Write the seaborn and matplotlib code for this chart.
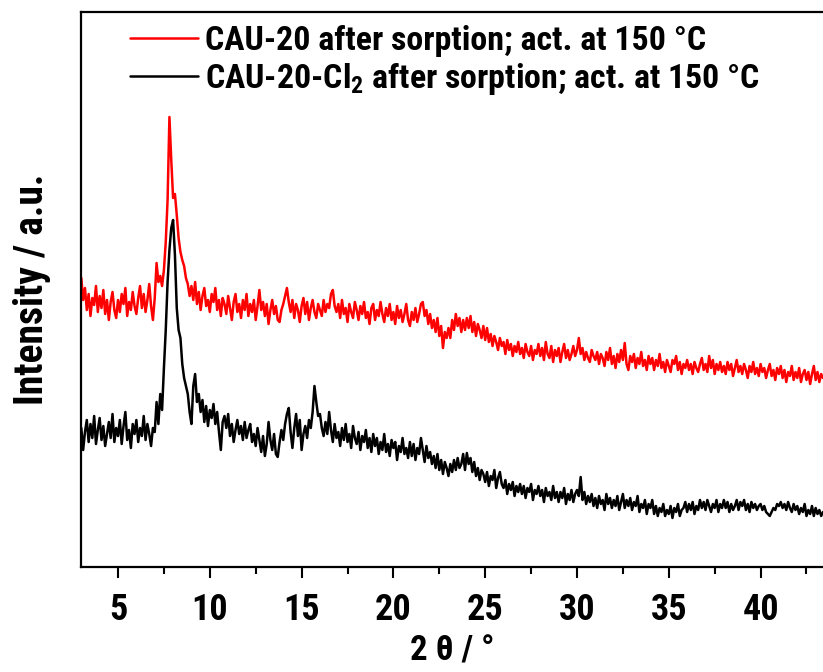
import numpy as np
import pandas as pd
import matplotlib
matplotlib.use("Agg")
import matplotlib.pyplot as plt
import matplotlib.font_manager as fm
import seaborn as sns

# PXRD scans, 2θ from 3.0° in 0.1° steps (arbitrary intensity units)
start_2theta = 3.0
step_2theta = 0.1

cau20 = [
    322, 300, 312, 290, 306, 284, 302, 295, 314, 288,
    304, 292, 310, 286, 300, 280, 298, 308, 290, 282,
    300, 288, 306, 296, 312, 284, 298, 290, 308, 294,
    286, 302, 314, 292, 306, 288, 300, 316, 294, 280,
    302, 337, 318, 324, 314, 330, 358, 400, 483, 440,
    402, 406, 385, 362, 348, 340, 334, 322, 316, 304,
    314, 300, 318, 296, 308, 290, 304, 312, 294, 300,
    288, 306, 298, 312, 290, 300, 284, 302, 296, 286,
    304, 292, 280, 298, 306, 288, 296, 282, 300, 290,
    306, 284, 296, 288, 300, 280, 294, 310, 290, 298,
    284, 296, 276, 290, 300, 286, 294, 280, 278, 290,
    296, 304, 312, 298, 288, 300, 282, 296, 290, 278,
    294, 302, 286, 298, 280, 292, 300, 288, 282, 296,
    290, 284, 300, 288, 296, 292, 306, 310, 294, 288,
    296, 282, 300, 286, 292, 278, 296, 288, 282, 298,
    290, 280, 294, 286, 298, 282, 288, 276, 292, 296,
    280, 290, 284, 298, 286, 278, 292, 284, 296, 280,
    288, 276, 294, 282, 290, 278, 286, 296, 280, 274,
    288, 280, 292, 278, 286, 296, 298, 284, 290, 276,
    286, 272, 280, 268, 282, 264, 274, 252, 268, 262,
    272, 262, 280, 270, 286, 274, 282, 268, 280, 270,
    282, 272, 284, 268, 278, 264, 276, 270, 262, 274,
    260, 272, 258, 266, 254, 264, 258, 250, 262, 254,
    258, 246, 260, 250, 256, 244, 254, 248, 258, 246,
    252, 242, 256, 248, 244, 254, 240, 250, 246, 256,
    244, 252, 240, 258, 246, 242, 254, 238, 250, 244,
    252, 238, 248, 256, 242, 250, 240, 246, 254, 244,
    250, 262, 246, 252, 240, 248, 242, 238, 250, 244,
    240, 248, 236, 246, 242, 234, 248, 240, 252, 236,
    244, 232, 246, 238, 250, 240, 257, 236, 230, 244,
    238, 246, 232, 242, 236, 248, 234, 240, 230, 244,
    236, 242, 230, 240, 234, 246, 232, 238, 228, 240,
    234, 228, 240, 236, 244, 230, 238, 226, 236, 232,
    240, 230, 236, 226, 238, 232, 228, 236, 242, 230,
    236, 228, 244, 232, 240, 226, 236, 230, 238, 228,
    234, 226, 238, 230, 236, 224, 232, 240, 228, 234,
    226, 236, 230, 222, 234, 228, 238, 226, 232, 224,
    236, 228, 232, 222, 230, 236, 224, 230, 220, 232,
    226, 234, 222, 230, 218, 228, 224, 234, 220, 228,
    222, 232, 218, 226, 230, 220, 228, 216, 226, 234,
    220, 228, 218, 226, 222,
]

cau20_cl2 = [
    172, 150, 168, 180, 158, 176, 162, 184, 156, 170,
    182, 160, 174, 154, 166, 178, 162, 186, 158, 172,
    164, 180, 156, 174, 188, 160, 170, 152, 176, 166,
    180, 158, 172, 164, 184, 160, 176, 166, 154, 172,
    168, 198, 176, 206, 190, 232, 270, 318, 350, 372,
    380, 345, 292, 270, 262, 236, 222, 214, 206, 188,
    176, 214, 226, 198, 206, 188, 200, 178, 194, 174,
    190, 182, 196, 176, 188, 168, 150, 178, 184, 172,
    186, 164, 176, 158, 170, 180, 166, 174, 160, 178,
    162, 170, 176, 158, 166, 154, 172, 160, 148, 164,
    144, 156, 178, 160, 150, 166, 146, 143, 158, 170,
    160, 176, 186, 192, 168, 152, 172, 186, 164, 180,
    150, 166, 174, 162, 180, 172, 188, 214, 198, 184,
    186, 172, 164, 178, 166, 188, 170, 158, 176, 162,
    168, 154, 172, 160, 176, 158, 166, 152, 174, 162,
    156, 168, 150, 164, 158, 170, 152, 162, 148, 166,
    154, 162, 146, 158, 150, 166, 148, 156, 144, 160,
    152, 158, 140, 154, 148, 162, 146, 152, 142, 158,
    144, 156, 140, 152, 146, 162, 150, 138, 154, 142,
    148, 136, 144, 132, 146, 130, 140, 126, 138, 132,
    124, 136, 128, 140, 130, 142, 132, 136, 146, 130,
    147, 136, 142, 128, 138, 124, 132, 120, 130, 126,
    118, 128, 114, 124, 120, 130, 112, 122, 128, 116,
    112, 120, 106, 116, 110, 118, 104, 114, 108, 116,
    106, 114, 102, 112, 108, 116, 100, 110, 106, 114,
    104, 110, 98, 112, 104, 108, 100, 114, 102, 108,
    98, 108, 102, 112, 96, 106, 100, 110, 98, 106,
    110, 104, 123, 100, 108, 96, 104, 98, 106, 94,
    102, 92, 104, 96, 100, 90, 106, 96, 102, 92,
    100, 94, 104, 90, 98, 106, 92, 100, 94, 102,
    90, 98, 94, 104, 88, 96, 92, 100, 86, 96,
    92, 100, 86, 94, 84, 92, 88, 96, 84, 90,
    86, 94, 82, 92, 88, 96, 84, 90, 92, 98,
    88, 96, 90, 98, 86, 94, 90, 100, 92, 98,
    90, 100, 94, 88, 96, 92, 100, 88, 96, 92,
    100, 92, 98, 88, 96, 90, 94, 100, 90, 98,
    94, 100, 90, 96, 88, 98, 92, 96, 90, 94,
    96, 90, 94, 88, 86, 84, 88, 92, 90, 96,
    94, 98, 92, 96, 90, 98, 92, 88, 96, 90,
    94, 86, 92, 88, 96, 84, 90, 86, 94, 84,
    92, 86, 90, 84, 88,
]

labels = [
    "CAU-20 after sorption; act. at 150 °C",
    "CAU-20-Cl$_2$ after sorption; act. at 150 °C",
]
colors = ["#ff0000", "#000000"]
xticks = [5, 10, 15, 20, 25, 30, 35, 40]

frames = []
for lab, vals in zip(labels, [cau20, cau20_cl2]):
    tt = np.round(start_2theta + step_2theta * np.arange(len(vals)), 2)
    frames.append(pd.DataFrame({"two_theta": tt, "intensity": vals, "sample": lab}))
df = pd.concat(frames, ignore_index=True)

sns.set_style("ticks")

# Prefer a narrow bold sans face; fall back to Liberation Sans
available = {f.name for f in fm.fontManager.ttflist}
family, scale = "Liberation Sans", 0.83
for cand in ["Roboto Condensed", "Liberation Sans Narrow", "Arial Narrow"]:
    if cand in available:
        family, scale = cand, 1.0
        break
plt.rcParams["font.family"] = [family, "DejaVu Sans"]
plt.rcParams["font.weight"] = "bold"
plt.rcParams["mathtext.fontset"] = "custom"
plt.rcParams["mathtext.rm"] = f"{family}:bold"
plt.rcParams["mathtext.default"] = "rm"
plt.rcParams["text.color"] = "black"
plt.rcParams["axes.labelcolor"] = "black"
plt.rcParams["xtick.color"] = "black"

fig = plt.figure(figsize=(8.23, 6.72), dpi=100)
ax = fig.add_axes([81.3 / 823, 105 / 672, 1 - 81.3 / 823, 555 / 672])

sns.lineplot(data=df, x="two_theta", y="intensity", hue="sample",
             hue_order=labels, palette=colors, linewidth=1.8,
             estimator=None, sort=False, ax=ax)

ax.set_xlim(3.0, 43.4)
ax.set_ylim(33, 588)
ax.set_xticks(xticks)
ax.set_xticks(np.arange(7.5, 43.4, 5), minor=True)
ax.set_yticks([])
ax.tick_params(axis="x", which="major", length=8, width=1.5, direction="out",
               labelsize=26 * scale, pad=10, colors="black")
ax.tick_params(axis="x", which="minor", length=5, width=1.5, direction="out",
               colors="black")
for lbl in ax.get_xticklabels():
    lbl.set_fontweight("bold")
for side in ["left", "top", "bottom"]:
    ax.spines[side].set_linewidth(1.6)
    ax.spines[side].set_color("black")
ax.spines["right"].set_visible(False)

ax.set_xlabel("2 θ / °", fontsize=25 * scale, fontweight="bold", labelpad=5)
ax.set_ylabel("Intensity / a.u.", fontsize=28.5 * scale, fontweight="bold", labelpad=22)

leg = ax.legend(loc="upper left", bbox_to_anchor=(0.066, 0.977), frameon=False,
                fontsize=24.4 * scale, handlelength=2.0, handletextpad=0.2,
                labelspacing=0.12, borderaxespad=0.0, borderpad=0.0)
for line in leg.get_lines():
    line.set_linewidth(1.8)
for t in leg.get_texts():
    t.set_fontweight("bold")
    t.set_color("black")

fig.savefig("out.png", dpi=100)
